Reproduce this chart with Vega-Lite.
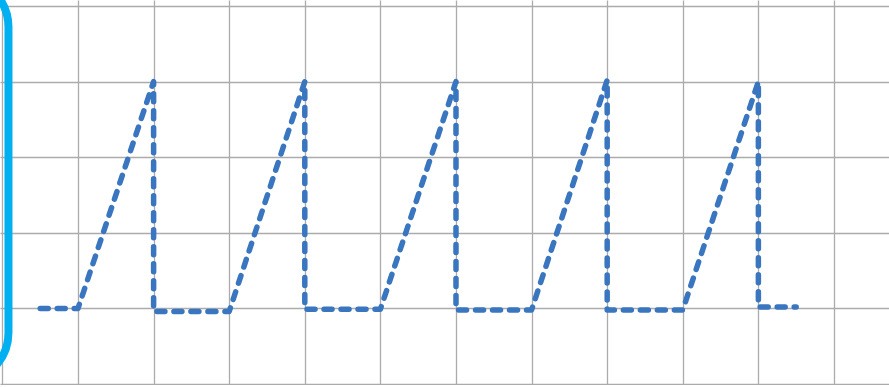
{
  "$schema": "https://vega.github.io/schema/vega-lite/v6.json",
  "width": 889,
  "height": 385,
  "padding": 0,
  "autosize": {"type": "none"},
  "background": "white",
  "config": {"view": {"stroke": null}},
  "layer": [
    {
      "data": {"values": [
        {"i": 0, "x": 0.5, "y": 1.0},
        {"i": 1, "x": 1, "y": 1.0},
        {"i": 2, "x": 2, "y": 4.0},
        {"i": 3, "x": 2, "y": 0.96},
        {"i": 4, "x": 3, "y": 0.96},
        {"i": 5, "x": 4, "y": 4.0},
        {"i": 6, "x": 4, "y": 0.99},
        {"i": 7, "x": 5, "y": 0.99},
        {"i": 8, "x": 6, "y": 4.0},
        {"i": 9, "x": 6, "y": 0.98},
        {"i": 10, "x": 7, "y": 0.98},
        {"i": 11, "x": 8, "y": 4.02},
        {"i": 12, "x": 8, "y": 0.98},
        {"i": 13, "x": 9, "y": 0.98},
        {"i": 14, "x": 10, "y": 4.0},
        {"i": 15, "x": 10, "y": 1.02},
        {"i": 16, "x": 10.5, "y": 1.02}
      ]},
      "mark": {"type": "line", "color": "#3a76c0", "strokeWidth": 5.5, "strokeDash": [8, 9], "strokeCap": "round", "strokeJoin": "round", "clip": true},
      "encoding": {
        "x": {"field": "x", "type": "quantitative",
          "scale": {"domain": [-0.032, 11.728], "nice": false, "zero": false},
          "axis": {"values": [0,1,2,3,4,5,6,7,8,9,10,11], "grid": true, "labels": false, "ticks": false, "domain": false, "title": null, "gridColor": "#ababab", "gridWidth": 1.3}},
        "y": {"field": "y", "type": "quantitative",
          "scale": {"domain": [-0.0132, 5.0794], "nice": false, "zero": false},
          "axis": {"values": [0,1,2,3,4,5], "grid": true, "labels": false, "ticks": false, "domain": false, "title": null, "gridColor": "#ababab", "gridWidth": 1.3}},
        "order": {"field": "i", "type": "quantitative"}
      }
    },
    {
      "data": {"values": [{"x0": -3, "x1": 0.08, "y0": 0.02, "y1": 5.38}]},
      "mark": {"type": "rect", "cornerRadius": 50, "fill": "transparent", "stroke": "#00b0f0", "strokeWidth": 8, "clip": true},
      "encoding": {
        "x": {"field": "x0", "type": "quantitative"},
        "x2": {"field": "x1"},
        "y": {"field": "y0", "type": "quantitative"},
        "y2": {"field": "y1"}
      }
    }
  ]
}
